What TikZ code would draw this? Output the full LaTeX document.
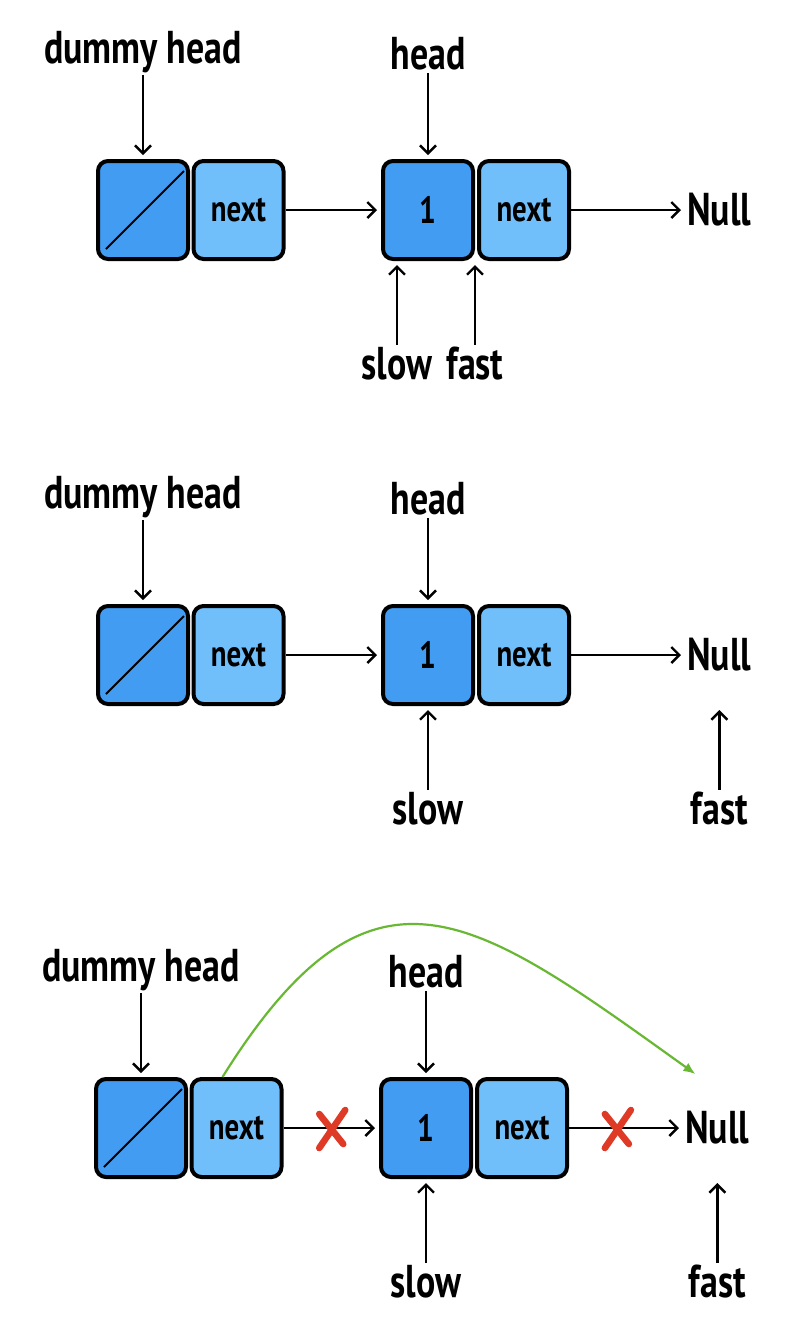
\documentclass[tikz,border=0pt]{standalone}
\usepackage{fontspec}
\newfontfamily\handfont{PT Sans}[FakeStretch=0.78]
\usepackage{tikz}
\usetikzlibrary{positioning}
\usetikzlibrary{arrows}
\usetikzlibrary{arrows.meta}
\usetikzlibrary{calc}
\definecolor{darkcell}{RGB}{66,156,242}
\definecolor{lightcell}{RGB}{112,190,250}
\definecolor{crossred}{RGB}{222,58,38}
\definecolor{linkgreen}{RGB}{104,184,52}
\tikzset{
cell/.style={rectangle, rounded corners=5pt, draw, line width=2pt, minimum width=45pt, minimum height=49pt, inner sep=0pt},
dummy_cell/.style={cell, fill=darkcell},
val_cell/.style={cell, fill=darkcell, font=\handfont\bfseries\fontsize{19}{21}\selectfont},
next_cell/.style={cell, fill=lightcell, font=\handfont\bfseries\fontsize{18.5}{20}\selectfont},
pointer_label/.style={font=\handfont\bfseries\fontsize{23}{26}\selectfont, inner sep=1pt},
pointer/.style={-{Straight Barb[length=4pt,width=8pt]}, line width=1.2pt, shorten >=2pt},
cross/.style={draw=crossred, line width=3.3pt, line cap=round}
}

\begin{document}
\begin{tikzpicture}[x=0.5pt, y=-0.5pt]
    \useasboundingbox (0,0) rectangle (812,1340);

    % first step: slow and fast on node 1
    \node[dummy_cell] (dummy_1) at (143,210) {};
    \draw[line width=1pt] ([shift={(5pt,6pt)}]dummy_1.south west) -- ([shift={(-3pt,-6pt)}]dummy_1.north east);
    \node[next_cell] (dnext_1) [right=0.75pt of dummy_1] {next};
    \node[val_cell] (one_1) [right=47.75pt of dnext_1] {1};
    \node[next_cell] (onext_1) [right=1pt of one_1] {next};
    \node[pointer_label] (null_1) [right=57pt of onext_1] {Null};
    \node[pointer_label] (dh_1) [above=42pt of dummy_1] {dummy head};
    \node[pointer_label] (head_1) [above=43pt of one_1] {head};
    \node[pointer_label] (slow_1) [below=42pt of one_1, xshift=-15.5pt] {slow};
    \node[pointer_label] (fast_1) [below=42pt of one_1, xshift=23.5pt] {fast};
    \draw[pointer] (dh_1) -- (dummy_1);
    \draw[pointer] (head_1) -- (one_1);
    \draw[pointer] (dnext_1.east) -- (one_1.west);
    \draw[pointer] (onext_1.east) -- (null_1);
    \draw[pointer] (slow_1) -- (slow_1 |- one_1.south);
    \draw[pointer] (fast_1) -- (fast_1 |- one_1.south);

    % second step: fast reaches Null
    \node[dummy_cell] (dummy_2) at (143,655) {};
    \draw[line width=1pt] ([shift={(5pt,6pt)}]dummy_2.south west) -- ([shift={(-3pt,-6pt)}]dummy_2.north east);
    \node[next_cell] (dnext_2) [right=0.75pt of dummy_2] {next};
    \node[val_cell] (one_2) [right=47.75pt of dnext_2] {1};
    \node[next_cell] (onext_2) [right=1pt of one_2] {next};
    \node[pointer_label] (null_2) [right=57pt of onext_2] {Null};
    \node[pointer_label] (dh_2) [above=42pt of dummy_2] {dummy head};
    \node[pointer_label] (head_2) [above=43pt of one_2] {head};
    \node[pointer_label] (slow_2) [below=42pt of one_2] {slow};
    \node[pointer_label] (fast_2) at (null_2 |- slow_2) {fast};
    \draw[pointer] (dh_2) -- (dummy_2);
    \draw[pointer] (head_2) -- (one_2);
    \draw[pointer] (dnext_2.east) -- (one_2.west);
    \draw[pointer] (onext_2.east) -- (null_2);
    \draw[pointer] (slow_2) -- (one_2);
    \draw[pointer] (fast_2) -- (fast_2 |- one_2.south);

    % third step: unlink node 1
    \node[dummy_cell] (dummy_3) at (141,1128) {};
    \draw[line width=1pt] ([shift={(5pt,6pt)}]dummy_3.south west) -- ([shift={(-3pt,-6pt)}]dummy_3.north east);
    \node[next_cell] (dnext_3) [right=0.75pt of dummy_3] {next};
    \node[val_cell] (one_3) [right=47.75pt of dnext_3] {1};
    \node[next_cell] (onext_3) [right=1pt of one_3] {next};
    \node[pointer_label] (null_3) [right=57pt of onext_3] {Null};
    \node[pointer_label] (dh_3) [above=42pt of dummy_3] {dummy head};
    \node[pointer_label] (head_3) [above=43pt of one_3] {head};
    \node[pointer_label] (slow_3) [below=42pt of one_3] {slow};
    \node[pointer_label] (fast_3) at (null_3 |- slow_3) {fast};
    \draw[pointer] (dh_3) -- (dummy_3);
    \draw[pointer] (head_3) -- (one_3);
    \draw[pointer] (dnext_3.east) -- (one_3.west);
    \draw[pointer] (onext_3.east) -- (null_3);
    \draw[pointer] (slow_3) -- (one_3);
    \draw[pointer] (fast_3) -- (fast_3 |- one_3.south);
    \coordinate (cut_a) at ($(dnext_3.east)!0.5!(one_3.west)$);
    \coordinate (cut_b) at ($(onext_3.east)!0.42!(null_3.west)$);
    \draw[cross] ([shift={(7pt,9pt)}]cut_a) -- ([shift={(-6pt,-10pt)}]cut_a);
    \draw[cross] ([shift={(-6pt,7pt)}]cut_a) -- ([shift={(6pt,-8pt)}]cut_a);
    \draw[cross] ([shift={(7pt,9pt)}]cut_b) -- ([shift={(-6pt,-10pt)}]cut_b);
    \draw[cross] ([shift={(-6pt,7pt)}]cut_b) -- ([shift={(6pt,-8pt)}]cut_b);
    \coordinate (bend_from) at ([xshift=-7pt]dnext_3.north);
    \coordinate (bend_to) at ([shift={(-11pt,27pt)}]null_3.center);
    \draw[linkgreen, line width=1.1pt, -{Latex[length=6pt,width=5pt]}] (bend_from) .. controls +(150,-240) and +(-222,-159) .. (bend_to);
\end{tikzpicture}
\end{document}
